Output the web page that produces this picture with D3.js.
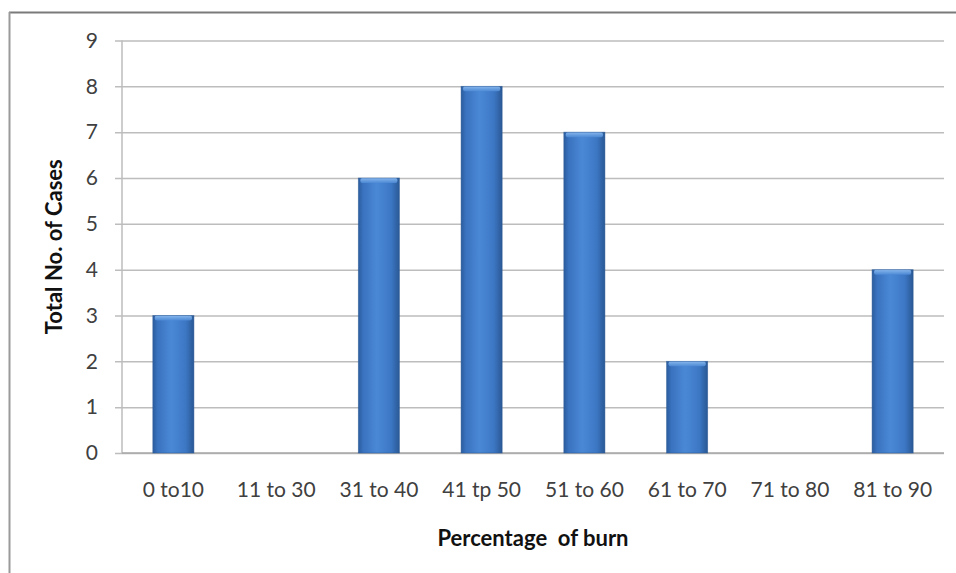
<!DOCTYPE html>
<html>
<head>
<meta charset="utf-8">
<script src="https://cdn.jsdelivr.net/npm/d3@7"></script>
<style>
    html, body { margin: 0; padding: 0; background: #fff; }
    svg { display: block; font-family: Lato, "Open Sans", sans-serif; }
</style>
</head>
<body>
<div id="chart"></div>
<script>
// bar chart: cases by percentage of burn

const categories = ['0 to10', '11 to 30', '31 to 40', '41 tp 50', '51 to 60', '61 to 70', '71 to 80', '81 to 90'];
const cases = [3, 0, 6, 8, 7, 2, 0, 4];
const yTicks = [0, 1, 2, 3, 4, 5, 6, 7, 8, 9];

(function () {
    const W = 956, H = 573;
    const plot = { left: 122, right: 944, top: 40.5, bottom: 453 };

    const svg = d3.select('#chart').append('svg').attr('width', W).attr('height', H);

    // gradients for the cylinder-ish bars
    const defs = svg.append('defs');
    const grad = defs.append('linearGradient').attr('id', 'barGrad').attr('x1', 0).attr('x2', 1).attr('y1', 0).attr('y2', 0);
    [[0, '#2b5c9e'], [0.12, '#3a73bf'], [0.45, '#4a88d6'], [0.8, '#3c77c4'], [1, '#2a5894']].forEach(s => grad.append('stop').attr('offset', s[0]).attr('stop-color', s[1]));
    const capGrad = defs.append('linearGradient').attr('id', 'capGrad').attr('x1', 0).attr('x2', 0).attr('y1', 0).attr('y2', 1);
    capGrad.append('stop').attr('offset', 0).attr('stop-color', '#8fbdf0');
    capGrad.append('stop').attr('offset', 1).attr('stop-color', '#4d8ad6');

    // outer chart border (top and left visible)
    svg.append('line').attr('x1', 9).attr('x2', W).attr('y1', 12.5).attr('y2', 12.5).attr('stroke', '#7a7a7a').attr('stroke-width', 2);
    svg.append('line').attr('x1', 9.5).attr('x2', 9.5).attr('y1', 12).attr('y2', H).attr('stroke', '#9a9a9a').attr('stroke-width', 2);

    const x = d3.scaleBand().domain(categories).range([plot.left, plot.right]).paddingInner(0.6).paddingOuter(0.3);
    const y = d3.scaleLinear().domain([0, 9]).range([plot.bottom, plot.top]);

    // gridlines + y axis
    const yAxis = d3.axisLeft(y).tickValues(yTicks).tickSize(-(plot.right - plot.left)).tickPadding(24).tickFormat(d3.format('d'));
    const gy = svg.append('g').attr('transform', `translate(${plot.left},0)`).call(yAxis);
    gy.select('.domain').remove();
    gy.selectAll('.tick line').attr('stroke', '#bdbdbd').attr('stroke-width', 1.5).attr('x1', -7);
    gy.selectAll('.tick text').attr('fill', '#404040').style('font-size', '21px').style('font-family', 'Lato, sans-serif');

    svg.append('line').attr('x1', plot.left).attr('x2', plot.left).attr('y1', plot.top).attr('y2', plot.bottom).attr('stroke', '#bdbdbd').attr('stroke-width', 1.5);
    svg.append('line').attr('x1', plot.left).attr('x2', plot.right).attr('y1', plot.bottom).attr('y2', plot.bottom).attr('stroke', '#a8a8a8').attr('stroke-width', 1.5);

    // bars
    const bars = svg.append('g');
    categories.forEach((c, i) => {
        const v = cases[i];
        if (!v) return;
        const bx = x(c), bw = x.bandwidth(), by = y(v);
        bars.append('rect').attr('x', bx).attr('y', by).attr('width', bw).attr('height', plot.bottom - by).attr('fill', 'url(#barGrad)');
        bars.append('rect').attr('x', bx + 2).attr('y', by).attr('width', bw - 4).attr('height', 5).attr('rx', 2).attr('fill', 'url(#capGrad)').attr('opacity', 0.9);
        bars.append('rect').attr('x', bx).attr('y', by).attr('width', bw).attr('height', plot.bottom - by).attr('fill', 'none').attr('stroke', '#2c5a96').attr('stroke-width', 0.8).attr('opacity', 0.6);
    });

    // x labels
    const xAxis = d3.axisBottom(x).tickSize(0).tickPadding(29);
    const gx = svg.append('g').attr('transform', `translate(0,${plot.bottom})`).call(xAxis);
    gx.select('.domain').remove();
    gx.selectAll('.tick text').attr('fill', '#404040').style('font-size', '21px').style('font-family', 'Lato, sans-serif');

    // axis titles
    svg.append('text').attr('x', (plot.left + plot.right) / 2).attr('y', 546).attr('text-anchor', 'middle')
        .attr('fill', '#111').style('font-size', '22px').style('font-weight', 'bold').style('white-space', 'pre').text('Percentage  of burn');
    svg.append('text').attr('transform', `translate(62,${(plot.top + plot.bottom) / 2}) rotate(-90)`).attr('text-anchor', 'middle')
        .attr('fill', '#111').style('font-size', '22px').style('font-weight', 'bold').text('Total No. of Cases');
})();
</script>
</body>
</html>
